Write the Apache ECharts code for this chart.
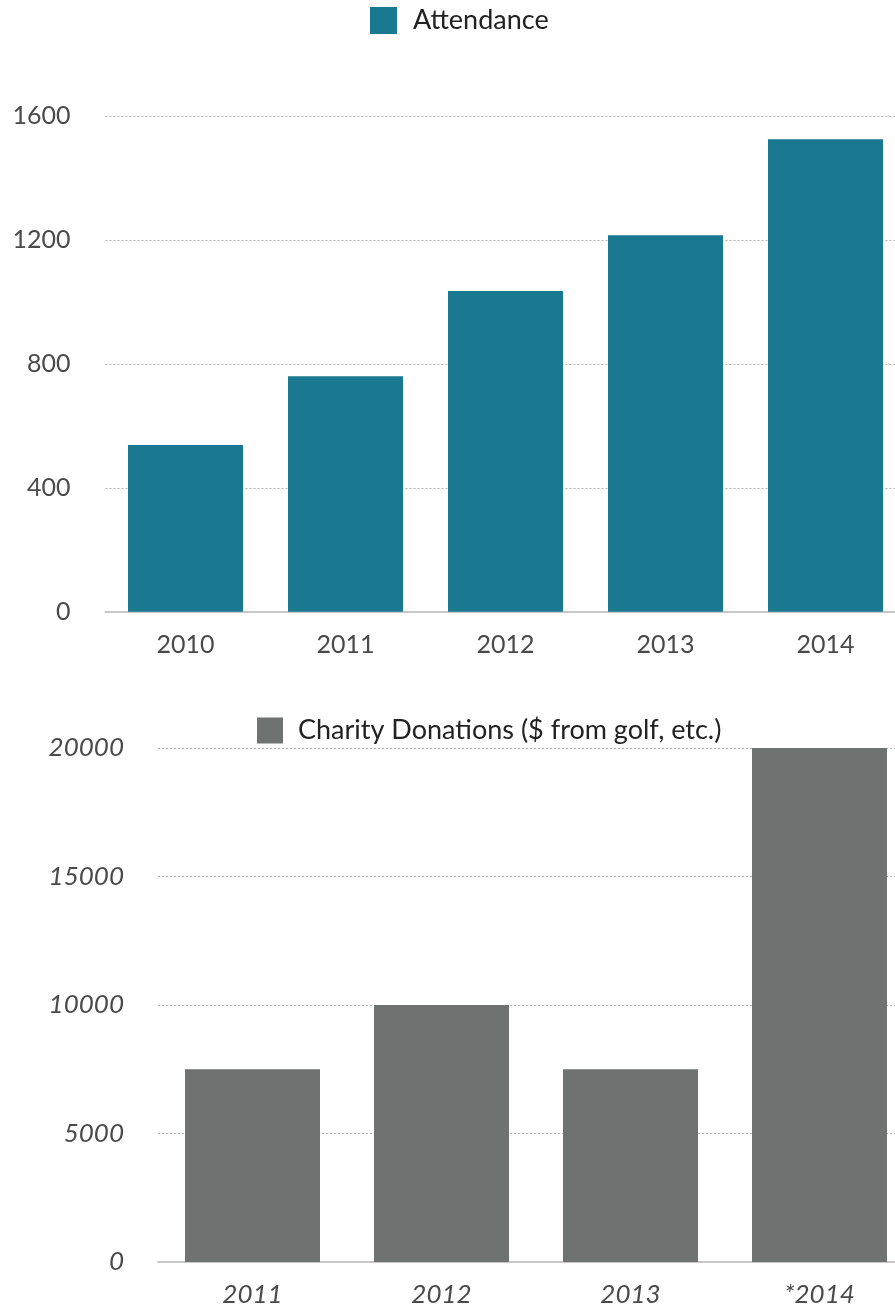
<!DOCTYPE html>
<html><head><meta charset="utf-8">
<script src="https://cdn.jsdelivr.net/npm/echarts@6/dist/echarts.min.js"></script>
<style>html,body{margin:0;padding:0;background:#fff;overflow:hidden}#c{width:930px;height:1308px}</style>
</head><body><div id="c"></div>
<script>
const attendanceYears = ['2010','2011','2012','2013','2014'];
const attendanceValues = [538, 760, 1035, 1215, 1525];
const donationYears = ['2011','2012','2013','*2014'];
const donationValues = [7500, 10000, 7500, 20000];
const attendanceName = 'Attendance';
const donationName = 'Charity Donations ($ from golf, etc.)';

const FONT = 'Lato, "Open Sans", sans-serif';
const chart = echarts.init(document.getElementById('c'), null, {renderer:'canvas'});
const split = {show:true, lineStyle:{color:'#b5b5b5', type:[2,2], width:1}};
const plain = v => String(v);
chart.setOption({
  animation:false,
  legend:[
    {data:[attendanceName], left:370, top:7, padding:0, itemWidth:27, itemHeight:27,
     icon:'rect', textStyle:{fontSize:27, color:'#222', fontFamily:FONT, padding:[0,0,0,11]}},
    {data:[donationName], left:257, top:717, padding:0, itemWidth:26, itemHeight:26,
     icon:'rect', textStyle:{fontSize:27, color:'#222', fontFamily:FONT, padding:[0,0,0,10]}}
  ],
  grid:[
    {left:105.5, top:116, width:800, height:495.7},
    {left:158, top:748, width:756, height:514.3}
  ],
  xAxis:[
    {type:'category', gridIndex:0, data:attendanceYears,
     axisLine:{lineStyle:{color:'#c8c8c8', width:2}}, axisTick:{show:false},
     axisLabel:{fontSize:25, color:'#4a4a4a', fontFamily:FONT, margin:21}},
    {type:'category', gridIndex:1, data:donationYears,
     axisLine:{lineStyle:{color:'#c8c8c8', width:2}}, axisTick:{show:false},
     axisLabel:{fontSize:26, color:'#4a4a4a', fontFamily:FONT, fontStyle:'italic', margin:20}}
  ],
  yAxis:[
    {type:'value', gridIndex:0, min:0, max:1600, interval:400,
     axisLine:{show:false}, axisTick:{show:false}, splitLine:split,
     axisLabel:{fontSize:25, color:'#4a4a4a', fontFamily:FONT, margin:35, formatter:plain}},
    {type:'value', gridIndex:1, min:0, max:20000, interval:5000,
     axisLine:{show:false}, axisTick:{show:false}, splitLine:split,
     axisLabel:{fontSize:26, color:'#4a4a4a', fontFamily:FONT, fontStyle:'italic', margin:34, formatter:plain}}
  ],
  series:[
    {name:attendanceName, type:'bar', xAxisIndex:0, yAxisIndex:0, data:attendanceValues,
     barWidth:115, itemStyle:{color:'#1B7891'}},
    {name:donationName, type:'bar', xAxisIndex:1, yAxisIndex:1, data:donationValues,
     barWidth:135, itemStyle:{color:'#6E7371'}}
  ]
});
</script></body></html>
